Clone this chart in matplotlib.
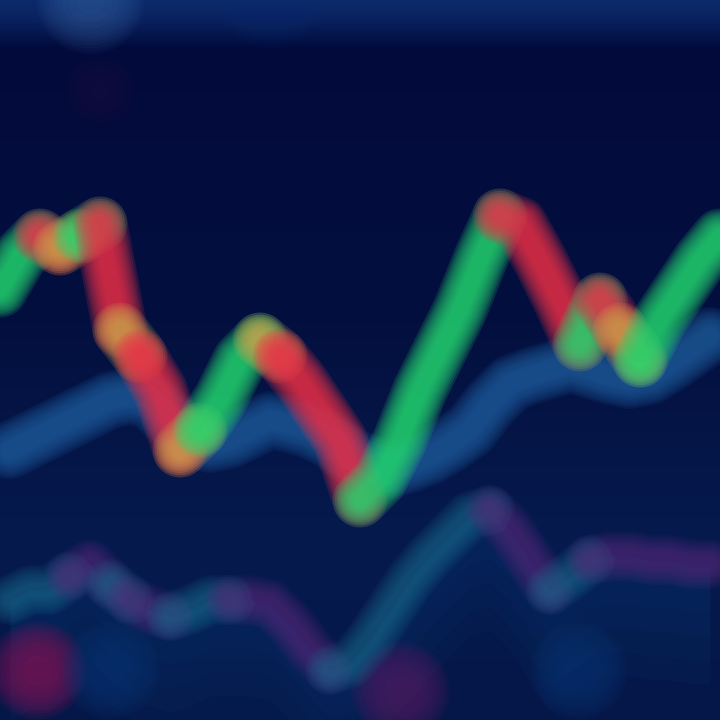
import numpy as np
import matplotlib
matplotlib.use("Agg")
import matplotlib.pyplot as plt
from matplotlib.colors import LinearSegmentedColormap

# ---- data ----
first_open = 107.5
closes = [116, 121, 118, 121, 124, 97.5, 91, 82.5, 67.5, 72.5, 80, 90, 95, 91, 85,
          77.5, 70, 55, 60, 70, 82.5, 92.5, 102.5, 115, 126, 124, 115, 105, 94, 105,
          97.5, 90, 100, 107.5, 115, 121]
# candle tint: "up", "down", "flat" (flat = yellowish transition candles)
tints = ["up", "up", "down", "flat", "up", "down", "flat", "down", "down", "flat", "up", "up",
         "up", "flat", "down", "down", "down", "down", "up", "up", "up", "up", "up", "up",
         "up", "down", "down", "down", "down", "up", "down", "flat", "up", "up", "up", "up"]
ma = [67.5, 70, 72.5, 75, 77.5, 80, 81, 80, 75, 70, 69, 70, 72.5, 75, 74, 72.5, 70, 66,
      64, 62.5, 64, 66, 69, 72.5, 79, 84, 86, 87.5, 89, 87.5, 86, 85, 86, 89, 92.5, 96]
osc = [30, 32.5, 32.5, 36, 39, 34, 30, 27.5, 26, 27.5, 30, 30, 30, 29, 24, 17.5, 12.5,
       14, 20, 27.5, 35, 41, 46, 51, 52.5, 47.5, 40, 32.5, 36, 40, 41, 41, 40, 40, 39, 39]
osc_tints = ["t", "t", "t", "p", "p", "t", "p", "p", "t", "t", "t", "p", "p", "p", "p", "p",
             "t", "t", "t", "t", "t", "t", "t", "t", "p", "p", "p", "t", "t", "p", "p", "p",
             "p", "p", "p"]
blob_x = [1.35, 5, 19.5, 28.4]
blob_y = [12.5, 12.5, 7.5, 12.5]
blob_c = ["#a8105c", "#0c3a7a", "#6a1a6a", "#0c3a7a"]

n = len(closes)
opens = [first_open] + closes[:-1]
xs = np.arange(n)

fig = plt.figure(figsize=(7.2, 7.2), dpi=100)
ax = fig.add_axes([0, 0, 1, 1])
ax.set_xlim(-0.5, n - 0.5)
ax.set_ylim(0, 180)
ax.axis("off")

# background gradient (row 0 = top)
bg = LinearSegmentedColormap.from_list("bg", [(0, "#0b2a6a"), (0.025, "#09225f"), (0.065, "#020a3c"),
                                              (0.45, "#03103f"), (0.75, "#061a4e"), (1, "#051748")])
grad = np.linspace(0, 1, 256).reshape(-1, 1)
ax.imshow(grad, aspect="auto", cmap=bg, extent=[-0.5, n - 0.5, 0, 180], zorder=0)
# soft highlight at top and faint red spot
for s in np.linspace(6000, 400, 10):
    ax.scatter([4], [180], s=s, color="#4a7ab8", alpha=0.05, lw=0, zorder=1)
for s in np.linspace(5000, 300, 10):
    ax.scatter([13], [180], s=s, color="#1a3a80", alpha=0.04, lw=0, zorder=1)
for s in np.linspace(2500, 200, 8):
    ax.scatter([4.5], [157.5], s=s, color="#3a0a48", alpha=0.04, lw=0, zorder=1)


def glow_path(x, y, color, lw, zorder, a=0.16, kmax=1.8, kmin=0.5, layers=10):
    """blurred stroke: many round-capped layers of decreasing width"""
    for k in np.linspace(kmax, kmin, layers):
        ax.plot(x, y, color=color, lw=lw * k, alpha=a, solid_capstyle="round",
                solid_joinstyle="round", zorder=zorder)


def runs(points_x, points_y, colors):
    """group consecutive segments of equal colour into polylines"""
    out = []
    start = 0
    for i in range(1, len(colors) + 1):
        if i == len(colors) or colors[i] != colors[start]:
            out.append((points_x[start:i + 1], points_y[start:i + 1], colors[start]))
            start = i
    return out


# lower oscillator: soft filled band + coloured line
osc_a = np.array(osc, dtype=float)
for d in [6, 12, 18, 24, 30]:
    ax.fill_between(xs, np.maximum(osc_a - d, 0), osc_a, color="#0e4682", alpha=0.07, lw=0, zorder=2)
osc_col = {"t": "#1c6e8e", "p": "#5e2c7e"}
for px, py, c in runs(list(xs), osc, [osc_col[t] for t in osc_tints]):
    glow_path(px, py, c, 20, 3, a=0.09)
for bx, by, c in zip(blob_x, blob_y, blob_c):
    for s in np.linspace(5000, 500, 9):
        ax.scatter([bx], [by], s=s, color=c, alpha=0.09, lw=0, zorder=2)

# moving average
glow_path(xs, ma, "#1f5e9e", 26, 4, a=0.14, kmax=1.6)

# candles as a continuous thick path (open -> close per candle)
cx, cy = [xs[0] - 0.5], [opens[0]]
for i in range(n):
    cx.append(xs[i] + 0.5)
    cy.append(closes[i])
tint_col = {"up": "#24d870", "down": "#ec3048", "flat": "#cca04c"}
for px, py, c in runs(cx, cy, [tint_col[t] for t in tints]):
    glow_path(px, py, c, 22, 5, a=0.17)

fig.savefig("out.png", dpi=100, facecolor="#020a3c")
